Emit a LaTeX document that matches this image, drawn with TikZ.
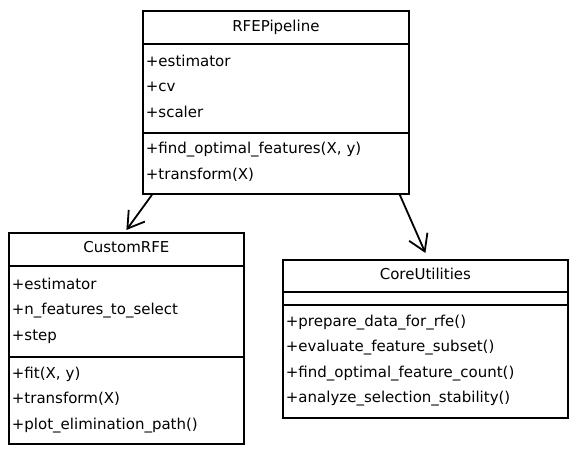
\documentclass[tikz,border=0pt]{standalone}
\usepackage{fontspec}
\setmainfont{DejaVu Sans}
\usepackage{tikz}
\usetikzlibrary{arrows.meta,positioning}
\tikzset{
  class-style/.style = {
    rectangle, draw, line width=1.8pt,
    inner xsep=3pt, inner ysep=0pt,
    font=\fontsize{15}{25.5}\selectfont
  },
  title-style/.style = {
    class-style, align=center, text depth=4pt,
    minimum width=#1, minimum height=33pt
  },
  empty-style/.style = {
    class-style, text width=#1
  },
  section-style/.style = {
    class-style, align=left,
    text width=#1
  },
  assoc-style/.style = {
    draw, line width=1.8pt,
    -{Straight Barb[length=16pt,width=20pt,line width=1.8pt]}
  }
}

\begin{document}
\begin{tikzpicture}[x=1pt,y=1pt]
    \useasboundingbox (0,0) rectangle (576,-452);

    %%% RFEPipeline
    \node[title-style=266pt,anchor=north west] (pipeTitle) at (142,-10) {RFEPipeline};
    \node[section-style=260pt,minimum height=89pt,text depth=56pt,below=-\pgflinewidth of pipeTitle] (pipeAttrs) {%
      +estimator\\
      +cv\\
      +scaler};
    \node[section-style=260pt,minimum height=61pt,text depth=30.5pt,below=-\pgflinewidth of pipeAttrs] (pipeMethods) {%
      +find\_optimal\_features(X, y)\\
      +transform(X)};

    %%% CustomRFE
    \node[title-style=235pt,anchor=north west] (customTitle) at (8,-232) {CustomRFE};
    \node[section-style=229pt,minimum height=91pt,text depth=56pt,below=-\pgflinewidth of customTitle] (customAttrs) {%
      +estimator\\
      +n\_features\_to\_select\\
      +step};
    \node[section-style=229pt,minimum height=87pt,text depth=56pt,below=-\pgflinewidth of customAttrs] (customMethods) {%
      +fit(X, y)\\
      +transform(X)\\
      +plot\_elimination\_path()};

    %%% CoreUtilities
    \node[title-style=285pt,minimum height=32pt,anchor=north west] (coreTitle) at (282,-259) {CoreUtilities};
    \node[empty-style=279pt,minimum height=13pt,below=-\pgflinewidth of coreTitle] (coreAttrs) {};
    \node[section-style=279pt,minimum height=113pt,text depth=81.5pt,below=-\pgflinewidth of coreAttrs] (coreMethods) {%
      +prepare\_data\_for\_rfe()\\
      +evaluate\_feature\_subset()\\
      +find\_optimal\_feature\_count()\\
      +analyze\_selection\_stability()};

    %%% arrows
    \path[assoc-style] ([xshift=10pt]pipeMethods.south west) -- ([yshift=2pt]customTitle.north);
    \path[assoc-style] ([xshift=-10pt]pipeMethods.south east) -- ([yshift=6pt]coreTitle.north);
\end{tikzpicture}
\end{document}
